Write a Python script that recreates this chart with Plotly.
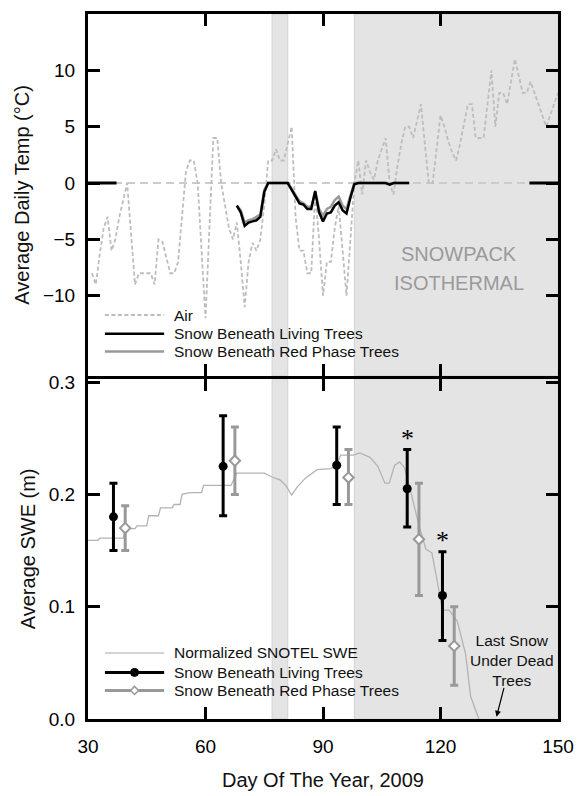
import plotly.graph_objects as go

# ---------------- data ----------------
air_days = list(range(31, 151))
air_temp = [
    -8, -9, -6.3, -4, -3, -6, -5, -3, -1.5, 0,          # 31-40
    -4.5, -9, -8, -8, -8, -8, -9, -5, -5.2, -6.5,       # 41-50
    -8, -8, -7, -3, 1, 2, 2, 0, -6, -12,                # 51-60
    -4, 4, 4, 0, -2, -4, -5, -3.5, -7, -11,             # 61-70
    -7, -5.3, -6, -5, -2, 2, 2, 3, 2, 2,                # 71-80
    3.5, 5, -3, -6, -6, -8, -8, -1, -5, -10,            # 81-90
    -7, -7, -4, -2, -6, -10, -5, 0, 2, -1,              # 91-100
    2, 1, 0.3, 2, 3, 4, 0, -1, 1.5, 3.5,                # 101-110
    5, 5, 4, 5.5, 7, 3.5, 0, 0, 3, 6,                   # 111-120
    5, 3.7, 2.7, 2, 3.5, 5.2, 7, 7, 4, 4,               # 121-130
    4, 7, 10, 5, 8, 8, 7, 9, 11, 9.5,                   # 131-140
    8, 8, 9, 8, 7, 6, 5, 6, 7, 8,                       # 141-150
]

snow_days = list(range(68, 113))
snow_living = [
    -2.0, -2.6, -3.8, -3.5, -3.4, -3.3, -3.0, -0.8, 0, 0,
    0, 0, 0, 0, -0.6, -1.2, -1.8, -1.9, -2.3, -2.3,
    -0.7, -2.6, -3.4, -2.7, -2.6, -2.0, -1.7, -2.4, -2.7, -1.3,
    -0.1, 0, 0, 0, 0, 0, 0, 0, 0, -0.15,
    0, 0, 0, 0, 0,
]
snow_red = [
    -2.0, -2.4, -3.5, -3.3, -3.2, -3.0, -2.8, -0.6, 0, 0,
    0, 0, 0, 0, -0.5, -1.1, -1.6, -1.8, -2.1, -2.1,
    -0.8, -2.3, -2.9, -2.3, -2.1, -1.5, -1.2, -2.0, -2.3, -1.1,
    0, 0, 0, 0, 0, 0, 0, 0, 0, -0.1,
    0, 0, 0, 0, 0,
]

swe_days = [30, 32.5, 33, 39, 39.5, 42, 42.5, 45, 45.5, 48, 48.5, 51.5, 52, 53.5,
            54, 56, 59, 59.5, 66.5, 68, 75, 77, 79, 80.5, 82, 83.5, 85.5, 88.5,
            92, 93.5, 94.5, 97.7, 99.4, 102, 104, 105.8, 106.9, 108.3, 109.6,
            110.8, 112.5, 114.6, 116.3, 117.8, 119.2, 120.5, 122.2, 124.3,
            126.4, 127.7, 129.8]
swe_norm = [0.159, 0.159, 0.161, 0.161, 0.1695, 0.1695, 0.172, 0.172, 0.181, 0.181,
            0.188, 0.188, 0.191, 0.191, 0.200, 0.2015, 0.2015, 0.208, 0.208, 0.219,
            0.219, 0.2155, 0.213, 0.208, 0.1995, 0.207, 0.2145, 0.222, 0.223, 0.226,
            0.235, 0.235, 0.237, 0.233, 0.225, 0.210, 0.210, 0.226, 0.229, 0.224,
            0.201, 0.171, 0.151, 0.148, 0.122, 0.097, 0.097, 0.087, 0.058, 0.020, 0.0]

living_days = [36.5, 64.5, 93.5, 111.5, 120.5]
living_swe = [0.180, 0.225, 0.226, 0.205, 0.110]
living_hi = [0.210, 0.270, 0.260, 0.240, 0.149]
living_lo = [0.150, 0.181, 0.191, 0.171, 0.070]

red_days = [39.5, 67.5, 96.5, 114.5, 123.5]
red_swe = [0.170, 0.230, 0.215, 0.160, 0.065]
red_hi = [0.190, 0.260, 0.240, 0.210, 0.100]
red_lo = [0.150, 0.200, 0.191, 0.110, 0.030]

sig_days = [111.5, 120.5]
sig_y = [0.250, 0.159]

x_ticks = [30, 60, 90, 120, 150]
temp_ticks = [-10, -5, 0, 5, 10]
swe_ticks = [0.0, 0.1, 0.2, 0.3]
swe_ticktext = ["0.0", "0.1", "0.2", "0.3"]

top_legend_labels = ["Air", "Snow Beneath Living Trees", "Snow Beneath Red Phase Trees"]
bottom_legend_labels = ["Normalized SNOTEL SWE", "Snow Beneath Living Trees",
                        "Snow Beneath Red Phase Trees"]

# ---------------- style ----------------
FONT = "Liberation Sans, Arial, Helvetica, sans-serif"
BLACK = "#000000"
GRAY = "#999999"
LIGHT = "#bdbdbd"
SNOTEL = "#b3b3b3"
SHADE = "#e4e4e4"
AIR_DASH = "4px,2.5px"

fig = go.Figure()

# ---- top panel (temperature) ----
fig.add_trace(go.Scatter(x=air_days, y=air_temp, mode="lines", name="Air",
                         line=dict(color=LIGHT, width=1.8, dash=AIR_DASH),
                         xaxis="x2", yaxis="y2"))
fig.add_trace(go.Scatter(x=snow_days, y=snow_red, mode="lines",
                         name="Snow Beneath Red Phase Trees",
                         line=dict(color=GRAY, width=2.5),
                         xaxis="x2", yaxis="y2"))
fig.add_trace(go.Scatter(x=snow_days, y=snow_living, mode="lines",
                         name="Snow Beneath Living Trees",
                         line=dict(color=BLACK, width=2.5),
                         xaxis="x2", yaxis="y2"))

# ---- bottom panel (SWE) ----
fig.add_trace(go.Scatter(x=swe_days, y=swe_norm, mode="lines",
                         name="Normalized SNOTEL SWE",
                         line=dict(color=SNOTEL, width=1.3),
                         xaxis="x", yaxis="y"))
fig.add_trace(go.Scatter(
    x=living_days, y=living_swe, mode="markers", name="Snow Beneath Living Trees",
    marker=dict(symbol="circle", size=9, color=BLACK),
    error_y=dict(type="data", symmetric=False,
                 array=[h - m for h, m in zip(living_hi, living_swe)],
                 arrayminus=[m - l for m, l in zip(living_swe, living_lo)],
                 color=BLACK, thickness=3, width=4),
    xaxis="x", yaxis="y"))
fig.add_trace(go.Scatter(
    x=red_days, y=red_swe, mode="markers", name="Snow Beneath Red Phase Trees",
    marker=dict(symbol="diamond", size=8, color="white",
                line=dict(color=GRAY, width=2)),
    error_y=dict(type="data", symmetric=False,
                 array=[h - m for h, m in zip(red_hi, red_swe)],
                 arrayminus=[m - l for m, l in zip(red_swe, red_lo)],
                 color=GRAY, thickness=3, width=4),
    xaxis="x", yaxis="y"))

# ---------------- shapes ----------------
shapes = []
for xr, yr in [("x", "y domain"), ("x2", "y2 domain")]:
    for x0, x1 in [(77, 81), (98, 150)]:
        shapes.append(dict(type="rect", xref=xr, yref=yr, x0=x0, x1=x1, y0=0, y1=1,
                           fillcolor=SHADE, line=dict(color="#d2d2d2", width=1),
                           layer="below"))
# zero reference line in the temperature panel
shapes.append(dict(type="line", xref="x2", yref="y2", x0=30, x1=150, y0=0, y1=0,
                   line=dict(color="#cccccc", width=2, dash="8px,5px"), layer="below"))
# long zero ticks on both sides
shapes.append(dict(type="line", xref="x2", yref="y2", x0=30, x1=37.3, y0=0, y1=0,
                   line=dict(color=BLACK, width=3), layer="above"))
shapes.append(dict(type="line", xref="x2", yref="y2", x0=142.7, x1=150, y0=0, y1=0,
                   line=dict(color=BLACK, width=3), layer="above"))

annotations = [
    dict(x=124.7, y=-6.3, xref="x2", yref="y2", text="SNOWPACK",
         showarrow=False, font=dict(family=FONT, size=20, color="#9a9a9a")),
    dict(x=124.7, y=-8.9, xref="x2", yref="y2", text="ISOTHERMAL",
         showarrow=False, font=dict(family=FONT, size=20, color="#9a9a9a")),
    dict(x=138.3, y=0.0525, xref="x", yref="y", text="Last Snow<br>Under Dead<br>Trees",
         showarrow=False, font=dict(family=FONT, size=15.5, color="#111111")),
    dict(x=134.3, y=0.002, xref="x", yref="y", ax=136.3, ay=0.029, axref="x", ayref="y",
         text="", showarrow=True, arrowhead=2, arrowsize=1, arrowwidth=1.2,
         arrowcolor=BLACK, standoff=0),
]
for d, v in zip(sig_days, sig_y):
    annotations.append(dict(x=d, y=v, xref="x", yref="y", text="*", showarrow=False,
                            font=dict(family="Liberation Serif, Times New Roman, serif",
                                      size=26, color=BLACK)))

# ---------------- hand-drawn legends (keys in axis-domain fractions) ----------------
LEG_X0, LEG_X1, LEG_TX, LEG_MX = 0.036, 0.162, 0.179, 0.099
top_leg_y = [0.168, 0.116, 0.067]
bot_leg_y = [0.194, 0.137, 0.084]
top_styles = [dict(color=LIGHT, width=1.8, dash=AIR_DASH),
              dict(color=BLACK, width=2.5), dict(color=GRAY, width=2.5)]
bot_styles = [dict(color="#c4c4c4", width=1.3),
              dict(color=BLACK, width=3), dict(color=GRAY, width=3)]

for lab, yy, st in zip(top_legend_labels, top_leg_y, top_styles):
    shapes.append(dict(type="line", xref="x2 domain", yref="y2 domain",
                       x0=LEG_X0, x1=LEG_X1, y0=yy, y1=yy, line=st, layer="above"))
    annotations.append(dict(x=LEG_TX, y=yy, xref="x2 domain", yref="y2 domain",
                            text=lab, showarrow=False, xanchor="left", yanchor="middle",
                            font=dict(family=FONT, size=15.5, color="#111111")))
for lab, yy, st in zip(bottom_legend_labels, bot_leg_y, bot_styles):
    shapes.append(dict(type="line", xref="x domain", yref="y domain",
                       x0=LEG_X0, x1=LEG_X1, y0=yy, y1=yy, line=st, layer="above"))
    annotations.append(dict(x=LEG_TX, y=yy, xref="x domain", yref="y domain",
                            text=lab, showarrow=False, xanchor="left", yanchor="middle",
                            font=dict(family=FONT, size=15.5, color="#111111")))
# legend markers
shapes.append(dict(type="circle", xref="x domain", yref="y domain",
                   xsizemode="pixel", ysizemode="pixel",
                   xanchor=LEG_MX, yanchor=bot_leg_y[1], x0=-4, x1=4, y0=-4, y1=4,
                   fillcolor=BLACK, line=dict(color=BLACK, width=1), layer="above"))
shapes.append(dict(type="path", xref="x domain", yref="y domain",
                   xsizemode="pixel", ysizemode="pixel",
                   xanchor=LEG_MX, yanchor=bot_leg_y[2],
                   path="M -4 0 L 0 4 L 4 0 L 0 -4 Z",
                   fillcolor="white", line=dict(color=GRAY, width=1.5), layer="above"))

axis_common = dict(showline=True, linecolor=BLACK, linewidth=3, mirror="ticks",
                   ticks="inside", ticklen=12, tickwidth=3, tickcolor=BLACK,
                   showgrid=False, zeroline=False,
                   tickfont=dict(family=FONT, size=19, color=BLACK))

# domains leave a 3px seam so the two 3px border lines coincide
BOT_TOP = 347.5 / 720
TOP_BOT = 350.5 / 720

fig.update_layout(
    width=581, height=796,
    margin=dict(l=88, r=19, t=7, b=69),
    paper_bgcolor="white", plot_bgcolor="white",
    font=dict(family=FONT, color=BLACK),
    shapes=shapes, annotations=annotations,
    showlegend=False,
    xaxis=dict(domain=[0, 1], anchor="y", range=[30, 150], tickvals=x_ticks,
               ticklabelstandoff=8,
               title=dict(text="Day Of The Year, 2009", standoff=18,
                          font=dict(family=FONT, size=20, color="#111111")),
               **axis_common),
    yaxis=dict(domain=[0, BOT_TOP], anchor="x", range=[0, 0.303], tickvals=swe_ticks,
               ticktext=swe_ticktext, ticklabelstandoff=6,
               title=dict(text="Average SWE (m)", standoff=8,
                          font=dict(family=FONT, size=20, color="#111111")),
               **axis_common),
    xaxis2=dict(domain=[0, 1], anchor="y2", matches="x", range=[30, 150],
                tickvals=x_ticks, showticklabels=False, **axis_common),
    yaxis2=dict(domain=[TOP_BOT, 1], anchor="x2", range=[-17.1, 15], tickvals=temp_ticks,
                ticklabelstandoff=6,
                title=dict(text="Average Daily Temp (°C)", standoff=8,
                           font=dict(family=FONT, size=20, color="#111111")),
                **axis_common),
)

fig.write_html("out.html", config={"displayModeBar": False},
               post_script="document.body.style.margin='0px';")
